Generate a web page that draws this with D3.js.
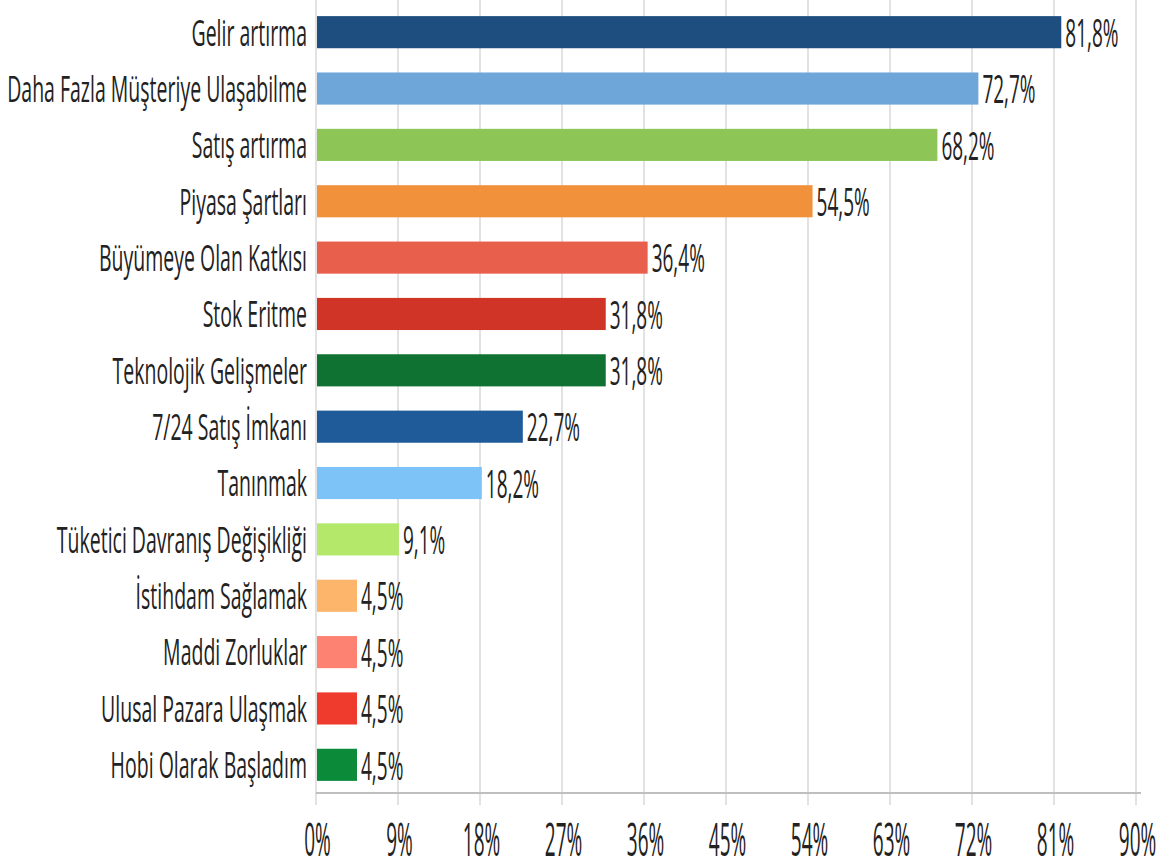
<!DOCTYPE html>
<html>
<head>
<meta charset="utf-8">
<script src="https://cdn.jsdelivr.net/npm/d3@7"></script>
<style>
  html, body { margin: 0; padding: 0; background: #fff; }
  svg { display: block; }
  text { font-family: "Open Sans", "Noto Sans", sans-serif; fill: #222; }
</style>
</head>
<body>
<script>
// Survey answers: reasons for starting e-commerce (share of respondents, %)
const categories = [
  "Gelir artırma",
  "Daha Fazla Müşteriye Ulaşabilme",
  "Satış artırma",
  "Piyasa Şartları",
  "Büyümeye Olan Katkısı",
  "Stok Eritme",
  "Teknolojik Gelişmeler",
  "7/24 Satış İmkanı",
  "Tanınmak",
  "Tüketici Davranış Değişikliği",
  "İstihdam Sağlamak",
  "Maddi Zorluklar",
  "Ulusal Pazara Ulaşmak",
  "Hobi Olarak Başladım"
];
const values = [81.8, 72.7, 68.2, 54.5, 36.4, 31.8, 31.8, 22.7, 18.2, 9.1, 4.5, 4.5, 4.5, 4.5];
const barColors = [
  "#1d4e7f", "#6ea6d9", "#8dc656", "#f2913c", "#e8604b", "#cf3427", "#0f7232",
  "#1f5b99", "#7ec3f7", "#b3e86a", "#fcb56a", "#fd8272", "#ef3a2e", "#0b8a3a"
];
const tickValues = [0, 9, 18, 27, 36, 45, 54, 63, 72, 81, 90];

const W = 1170, H = 868;
const plotLeft = 316, plotRight = 1136, plotTop = 4, plotBottom = 793;

const svg = d3.select("body").append("svg")
  .attr("width", W).attr("height", H);

const x = d3.scaleLinear().domain([0, 90]).range([plotLeft, plotRight]);
const y = d3.scaleBand().domain(categories).range([plotTop, plotBottom])
  .paddingInner(0.43).paddingOuter(0.215);

const pct = v => d3.format(".1f")(v).replace(".", ",") + "%";

// vertical gridlines, running a little below the axis as tick marks
svg.append("g").selectAll("line").data(tickValues).join("line")
  .attr("x1", d => x(d)).attr("x2", d => x(d))
  .attr("y1", 0).attr("y2", plotBottom + 12)
  .attr("stroke", "#d9d9d9").attr("stroke-width", 1.5);

// bars
svg.append("g").selectAll("rect").data(values).join("rect")
  .attr("x", x(0) + 1)
  .attr("y", (d, i) => y(categories[i]))
  .attr("width", d => x(d) - x(0) - 1)
  .attr("height", y.bandwidth())
  .attr("fill", (d, i) => barColors[i]);

// bottom axis
const xAxis = svg.append("g")
  .attr("transform", `translate(0,${plotBottom})`)
  .call(d3.axisBottom(x).tickValues(tickValues).tickSize(0).tickFormat(d => d + "%"));
xAxis.select(".domain").remove();
xAxis.append("line")
  .attr("x1", x(0)).attr("x2", x(90) + 5)
  .attr("stroke", "#bfbfbf").attr("stroke-width", 2);
xAxis.selectAll(".tick text")
  .attr("y", 0).attr("dy", "0.36em")
  .attr("font-size", 19)
  .attr("transform", "translate(1,47) scale(1,2.4)");

// category axis
const yAxis = svg.append("g")
  .attr("transform", `translate(${x(0)},0)`)
  .call(d3.axisLeft(y).tickSize(0).tickPadding(9));
yAxis.select(".domain").remove();
yAxis.selectAll(".tick text")
  .attr("dy", "0.36em")
  .attr("font-size", 19.5)
  .attr("transform", "scale(1,1.9)");

// value labels
svg.append("g").selectAll("g").data(values).join("g")
  .attr("transform", (d, i) => `translate(${x(d) + 4},${y(categories[i]) + y.bandwidth() / 2 + 1})`)
  .append("text")
  .attr("dy", "0.36em")
  .attr("font-size", 19)
  .attr("transform", "scale(1,2.0)")
  .text(d => pct(d));
</script>
</body>
</html>
